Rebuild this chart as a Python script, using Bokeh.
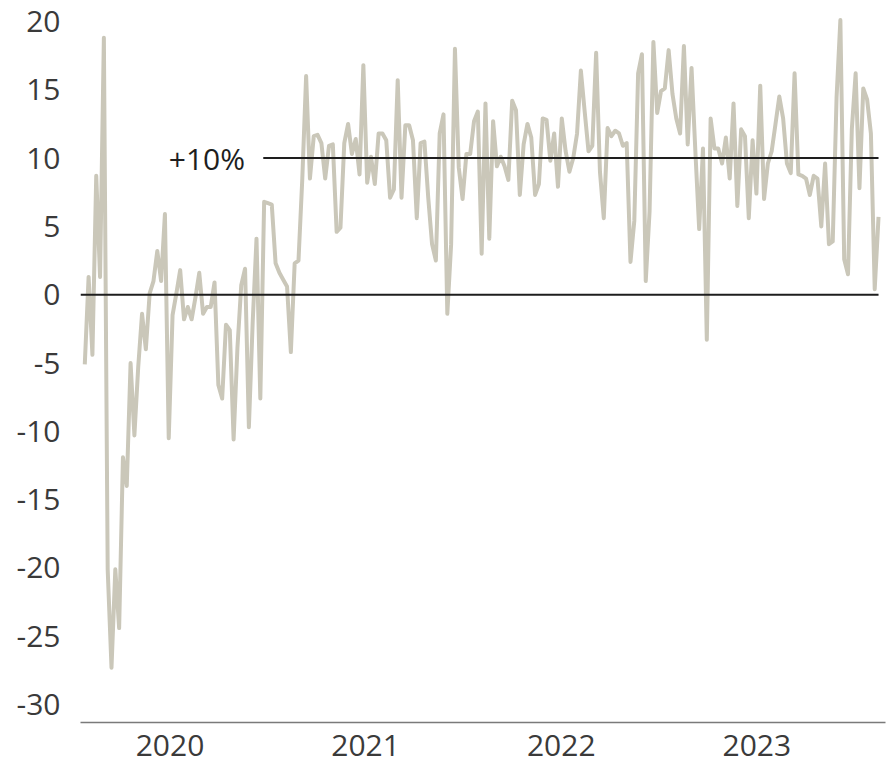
import pandas as pd
from bokeh.plotting import figure
from bokeh.models import (Label, FixedTicker, CustomJSTickFormatter,
                          Range1d, ColumnDataSource)
from bokeh.embed import file_html
from bokeh.resources import INLINE

# ---- data (weekly values, % change) ----
values = [
    -5.1, 1.3, -4.4, 8.7, 1.3, 18.8, -20.1, -27.3, -20.1, -24.4,
    -11.9, -14.0, -5.0, -10.3, -5.3, -1.4, -4.0, 0.1, 1.0, 3.2,
    1.0, 5.9, -10.5, -1.5, 0.1, 1.8, -1.8, -0.9, -1.8, -0.2,
    1.6, -1.4, -0.9, -0.9, 0.9, -6.6, -7.6, -2.2, -2.6, -10.6,
    -3.9, 0.7, 1.9, -9.7, -2.0, 4.1, -7.6, 6.8, 6.7, 6.6,
    2.3, 1.6, 1.1, 0.6, -4.2, 2.3, 2.5, 8.5, 16.0, 8.5,
    11.6, 11.7, 11.1, 8.5, 10.9, 11.0, 4.6, 4.9, 11.1, 12.5,
    10.3, 11.4, 8.8, 16.8, 8.2, 10.1, 8.1, 11.8, 11.8, 11.3,
    7.1, 7.7, 15.7, 7.1, 12.4, 12.4, 11.3, 5.6, 11.1, 11.2,
    7.1, 3.7, 2.5, 11.8, 13.2, -1.4, 3.7, 18.0, 9.3, 7.0,
    10.3, 10.3, 12.7, 13.4, 3.0, 14.0, 4.1, 12.7, 9.4, 10.1,
    9.4, 8.4, 14.2, 13.5, 7.3, 11.0, 12.5, 11.5, 7.3, 8.1,
    12.9, 12.8, 9.8, 11.8, 7.9, 12.9, 10.5, 9.0, 10.0, 11.8,
    16.4, 13.4, 10.5, 10.9, 17.7, 9.0, 5.6, 12.2, 11.6, 12.0,
    11.8, 10.9, 11.1, 2.4, 5.4, 16.2, 17.6, 1.0, 6.1, 18.5,
    13.3, 14.9, 15.1, 17.9, 14.7, 12.9, 11.8, 18.2, 11.0, 16.6,
    10.5, 4.8, 10.7, -3.3, 12.9, 10.7, 10.7, 9.6, 11.5, 8.5,
    14.0, 6.5, 12.1, 11.6, 5.6, 11.3, 7.4, 15.3, 7.0, 9.6,
    10.5, 12.5, 14.5, 12.9, 9.6, 8.9, 16.2, 8.8, 8.7, 8.5,
    7.3, 8.7, 8.5, 5.0, 9.6, 3.7, 3.9, 14.4, 20.1, 2.6,
    1.5, 12.1, 16.2, 7.8, 15.1, 14.3, 11.8, 0.4, 5.7,
]
start_date = "2020-01-24"
end_date = "2024-02-13"
year_labels = ["2020", "2021", "2022", "2023"]
y_ticks = [-30, -25, -20, -15, -10, -5, 0, 5, 10, 15, 20]
threshold = 10
threshold_label = "+10%"

dates = pd.date_range(start_date, end_date, periods=len(values))
src = ColumnDataSource(dict(date=dates, value=values))

def ms(ts):
    return pd.Timestamp(ts).timestamp() * 1000.0

FONT = "Open Sans"
x_start = ms("2020-01-16")
x_end = ms("2024-02-26")
last_x = dates[-1].timestamp() * 1000.0

p = figure(
    width=886, height=766,
    x_axis_type="datetime",
    output_backend="svg", toolbar_location=None,
    x_range=Range1d(x_start, x_end),
    y_range=Range1d(-31.31, 20.80),
    min_border_left=80, min_border_right=1,
    min_border_top=10, min_border_bottom=44,
    background_fill_color="white", border_fill_color="white",
)
p.outline_line_color = None
p.xgrid.visible = False
p.ygrid.visible = False

# data line
p.line("date", "value", source=src, line_color="#cac7b9", line_width=4,
       line_join="round")

# zero line
p.line(x=[x_start, last_x], y=[0, 0], line_color="#1e1e1e", line_width=2)

# +10% reference line
line_start = ms("2020-12-22")
p.line(x=[line_start, last_x], y=[threshold, threshold],
       line_color="#1e1e1e", line_width=2)
p.add_layout(Label(x=ms("2020-11-18"), y=threshold, text=threshold_label,
                   text_align="right", text_baseline="middle",
                   text_font=FONT, text_font_size="30px",
                   text_color="#1e1e1e"))

# x axis
xa = p.xaxis[0]
xa.ticker = FixedTicker(ticks=[ms(f"{y}-07-01") for y in year_labels])
xa.formatter = CustomJSTickFormatter(
    code="return new Date(tick).getUTCFullYear().toString();")
xa.axis_line_color = "#7a7a7a"
xa.axis_line_width = 1.5
xa.major_tick_line_color = None
xa.minor_tick_line_color = None
xa.major_tick_out = 0
xa.major_tick_in = 0
xa.major_label_standoff = 12
xa.major_label_text_font = FONT
xa.major_label_text_font_size = "30px"
xa.major_label_text_color = "#3a3a3a"

# y axis
ya = p.yaxis[0]
ya.ticker = FixedTicker(ticks=y_ticks)
ya.formatter = CustomJSTickFormatter(code="return Math.round(tick).toString();")
ya.axis_line_color = None
ya.major_tick_line_color = None
ya.minor_tick_line_color = None
ya.major_tick_out = 0
ya.major_tick_in = 0
ya.major_label_standoff = 20
ya.major_label_text_font = FONT
ya.major_label_text_font_size = "30px"
ya.major_label_text_color = "#3a3a3a"

open("out.html", "w").write(file_html(p, INLINE))
